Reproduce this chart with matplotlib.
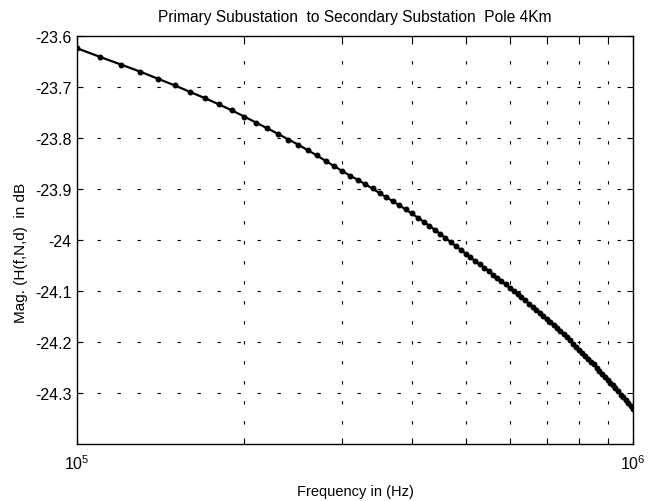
import numpy as np
import matplotlib
matplotlib.use("Agg")
import matplotlib.pyplot as plt
import matplotlib.ticker as ticker

plt.rcParams['font.family'] = ['Liberation Sans', 'DejaVu Sans']
plt.rcParams['mathtext.fontset'] = 'custom'
plt.rcParams['mathtext.rm'] = 'Liberation Sans'
plt.rcParams['mathtext.it'] = 'Liberation Sans'

# frequency sweep, 100 kHz to 1 MHz in 10 kHz steps
freq = np.arange(1e5, 1e6 + 1, 1e4)

# magnitude (dB)
mag = [
    -23.624, -23.641, -23.656, -23.670, -23.684, -23.697, -23.710, -23.722, -23.734, -23.746,
    -23.758, -23.770, -23.781, -23.792, -23.803, -23.813, -23.824, -23.834, -23.845, -23.855,
    -23.865, -23.874, -23.882, -23.891, -23.899, -23.908, -23.916, -23.924, -23.932, -23.940,
    -23.948, -23.956, -23.964, -23.972, -23.980, -23.988, -23.996, -24.004, -24.012, -24.019,
    -24.027, -24.034, -24.041, -24.048, -24.054, -24.061, -24.068, -24.074, -24.081, -24.087,
    -24.094, -24.100, -24.106, -24.112, -24.118, -24.125, -24.131, -24.137, -24.143, -24.149,
    -24.155, -24.161, -24.167, -24.173, -24.179, -24.185, -24.191, -24.197, -24.203, -24.209,
    -24.215, -24.221, -24.227, -24.233, -24.239, -24.244, -24.250, -24.256, -24.262, -24.268,
    -24.274, -24.280, -24.285, -24.291, -24.297, -24.303, -24.308, -24.314, -24.320, -24.326,
    -24.331,
]

yticks = [-24.3, -24.2, -24.1, -24.0, -23.9, -23.8, -23.7, -23.6]
ytick_labels = ['-24.3', '-24.2', '-24.1', '-24', '-23.9', '-23.8', '-23.7', '-23.6']
xticks = [1e5, 1e6]
xtick_labels = ['$10^{5}$', '$10^{6}$']

title = 'Primary Subustation  to Secondary Substation  Pole 4Km'
xlabel = 'Frequency in (Hz)'
ylabel = 'Mag. (H(f,N,d)  in dB'

fig = plt.figure(figsize=(6.58, 5.02), dpi=100)
ax = fig.add_axes([77/658, 1 - 445/502, 556/658, 408/502])

ax.semilogx(freq, mag, 'k.-', linewidth=1.6, markersize=6.5)

ax.set_xlim(1e5, 1e6)
ax.set_ylim(-24.4, -23.6)
ax.set_yticks(yticks)
ax.set_yticklabels(ytick_labels)
ax.xaxis.set_major_locator(ticker.FixedLocator(xticks))
ax.xaxis.set_major_formatter(ticker.FixedFormatter(xtick_labels))
ax.xaxis.set_minor_locator(ticker.LogLocator(base=10, subs=np.arange(2, 10)))
ax.xaxis.set_minor_formatter(ticker.NullFormatter())

grid_style = dict(color='k', linestyle=(0, (3, 15)), linewidth=0.8)
ax.grid(True, which='major', axis='both', **grid_style)
ax.grid(True, which='minor', axis='x', **grid_style)

ax.tick_params(which='both', direction='in', top=True, right=True,
               length=4.5, width=0.8, labelsize=11.5, colors='k')
ax.tick_params(axis='x', which='major', pad=7)
ax.tick_params(axis='y', which='major', pad=4)
for sp in ax.spines.values():
    sp.set_linewidth(1.0)
    sp.set_color('k')

ax.set_title(title, fontsize=11.2, pad=11)
ax.set_xlabel(xlabel, fontsize=10.5, labelpad=8)
ax.set_ylabel(ylabel, fontsize=11)
ax.yaxis.set_label_coords(-0.088, 0.47)

fig.savefig('out.png', dpi=100)
